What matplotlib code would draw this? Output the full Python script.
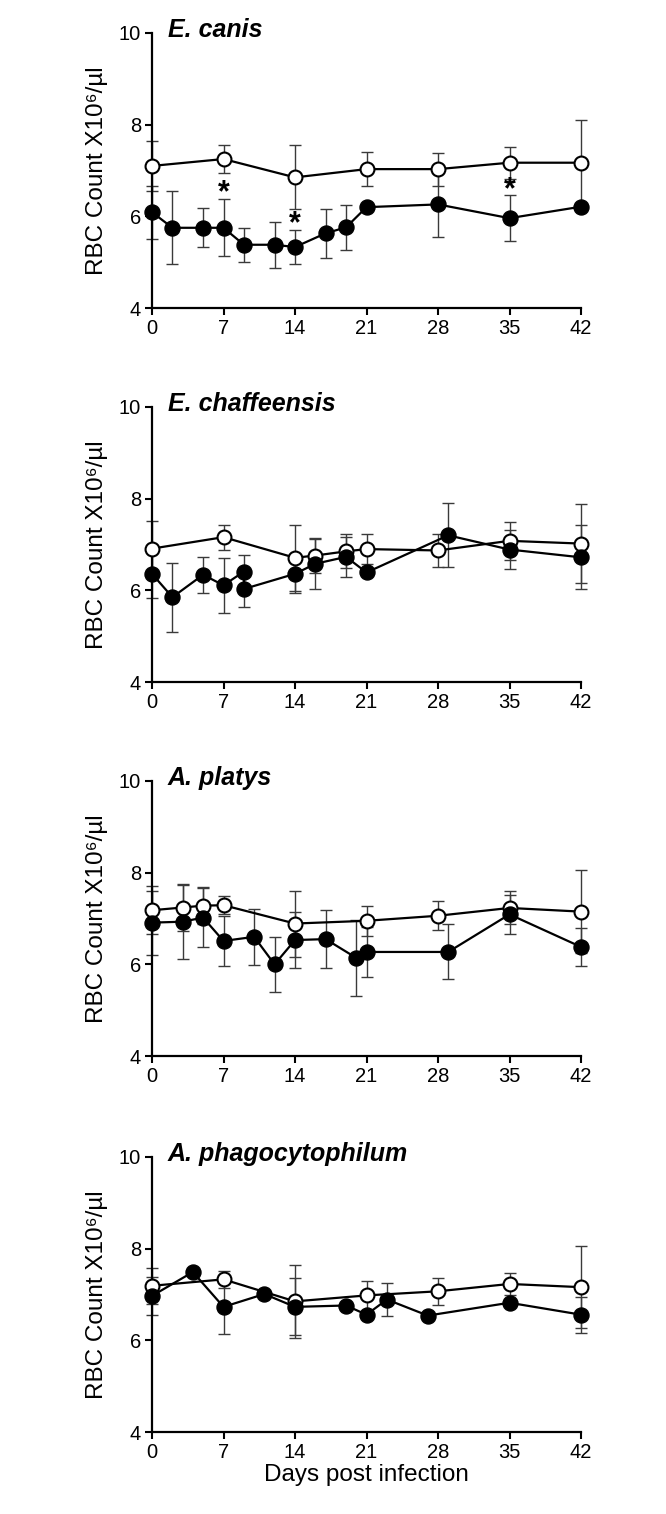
import matplotlib
matplotlib.use("Agg")
import matplotlib.pyplot as plt

plt.rcParams['font.family'] = ['Liberation Sans', 'DejaVu Sans']

# panel titles
titles = ["E. canis", "E. chaffeensis", "A. platys", "A. phagocytophilum"]

# E. canis
canis_open_x = [0, 7, 14, 21, 28, 35, 42]
canis_open_y = [7.10, 7.25, 6.85, 7.03, 7.03, 7.17, 7.17]
canis_open_err = [0.54, 0.31, 0.70, 0.37, 0.36, 0.35, 0.94]
canis_fill_x = [0, 2, 5, 7, 9, 12, 14, 17, 19, 21, 28, 35, 42]
canis_fill_y = [6.09, 5.75, 5.75, 5.75, 5.38, 5.38, 5.33, 5.63, 5.76, 6.20, 6.26, 5.96, 6.21]
canis_fill_err = [0.58, 0.80, 0.43, 0.62, 0.37, 0.50, 0.38, 0.54, 0.49, 0.05, 0.72, 0.50, 0.05]
canis_star_x = [7, 14, 35]
canis_star_y = [6.50, 5.83, 6.57]

# E. chaffeensis
chaf_open_x = [0, 7, 14, 16, 19, 21, 28, 35, 42]
chaf_open_y = [6.91, 7.16, 6.71, 6.76, 6.85, 6.90, 6.87, 7.08, 7.02]
chaf_open_err = [0.60, 0.27, 0.72, 0.38, 0.37, 0.33, 0.35, 0.42, 0.86]
chaf_fill_x = [0, 2, 5, 7, 9, 9, 14, 16, 19, 21, 29, 35, 42]
chaf_fill_y = [6.36, 5.85, 6.34, 6.11, 6.41, 6.03, 6.36, 6.58, 6.73, 6.39, 7.20, 6.89, 6.72]
chaf_fill_err = [0.52, 0.75, 0.39, 0.60, 0.37, 0.39, 0.41, 0.55, 0.44, 0.05, 0.70, 0.42, 0.70]

# A. platys
plat_open_x = [0, 3, 5, 7, 14, 21, 28, 35, 42]
plat_open_y = [7.18, 7.24, 7.28, 7.29, 6.89, 6.95, 7.06, 7.23, 7.15]
plat_open_err = [0.52, 0.52, 0.41, 0.20, 0.72, 0.33, 0.32, 0.36, 0.91]
plat_fill_x = [0, 3, 5, 7, 10, 12, 14, 17, 20, 21, 29, 35, 42]
plat_fill_y = [6.91, 6.93, 7.02, 6.51, 6.60, 6.00, 6.53, 6.55, 6.14, 6.27, 6.27, 7.09, 6.38]
plat_fill_err = [0.70, 0.81, 0.65, 0.55, 0.61, 0.60, 0.61, 0.63, 0.82, 0.54, 0.60, 0.42, 0.41]

# A. phagocytophilum
phag_open_x = [0, 7, 14, 21, 28, 35, 42]
phag_open_y = [7.19, 7.33, 6.85, 6.98, 7.07, 7.23, 7.16]
phag_open_err = [0.39, 0.18, 0.79, 0.31, 0.29, 0.25, 0.89]
phag_fill_x = [0, 4, 7, 11, 14, 19, 21, 23, 27, 35, 42]
phag_fill_y = [6.97, 7.49, 6.73, 7.01, 6.73, 6.76, 6.56, 6.89, 6.54, 6.82, 6.56]
phag_fill_err = [0.42, 0.05, 0.60, 0.05, 0.62, 0.05, 0.05, 0.36, 0.05, 0.05, 0.39]

panels = [
    (canis_open_x, canis_open_y, canis_open_err, canis_fill_x, canis_fill_y, canis_fill_err),
    (chaf_open_x, chaf_open_y, chaf_open_err, chaf_fill_x, chaf_fill_y, chaf_fill_err),
    (plat_open_x, plat_open_y, plat_open_err, plat_fill_x, plat_fill_y, plat_fill_err),
    (phag_open_x, phag_open_y, phag_open_err, phag_fill_x, phag_fill_y, phag_fill_err),
]

x_ticks = [0, 7, 14, 21, 28, 35, 42]
y_ticks = [4, 6, 8, 10]

W, H = 666, 1514
fig = plt.figure(figsize=(W / 100, H / 100), dpi=100)

ax_left = 152 / W
ax_width = 429 / W
ax_height = 275 / H
ax_bottoms = [1 - 308 / H, 1 - 682 / H, 1 - 1056 / H, 1 - 1432 / H]

for i, (ox, oy, oe, fx, fy, fe) in enumerate(panels):
    ax = fig.add_axes([ax_left, ax_bottoms[i], ax_width, ax_height])

    ax.errorbar(ox, oy, yerr=oe, fmt='none', ecolor='#3a3a3a', elinewidth=1.0,
                capsize=4.4, capthick=1.0, zorder=1, clip_on=False)
    ax.errorbar(fx, fy, yerr=fe, fmt='none', ecolor='#3a3a3a', elinewidth=1.0,
                capsize=4.4, capthick=1.0, zorder=1, clip_on=False)
    ax.plot(ox, oy, '-o', color='black', lw=1.6, ms=10, mfc='white', mec='black',
            mew=1.5, zorder=3, clip_on=False)
    ax.plot(fx, fy, '-o', color='black', lw=1.6, ms=10.8, mfc='black', mec='black',
            zorder=4, clip_on=False)

    if i == 0:
        for sx, sy in zip(canis_star_x, canis_star_y):
            ax.text(sx, sy, '*', ha='center', va='center', fontsize=22,
                    fontweight='bold', zorder=5)

    ax.set_xlim(0, 42)
    ax.set_ylim(4, 10)
    ax.set_xticks(x_ticks)
    ax.set_yticks(y_ticks)
    ax.tick_params(direction='out', length=5, width=1.5, labelsize=14.5, pad=3)
    for side in ['top', 'right']:
        ax.spines[side].set_visible(False)
    for side in ['left', 'bottom']:
        ax.spines[side].set_linewidth(1.6)
    ax.set_ylabel("RBC Count X10\u2076/\u00b5l", fontsize=17.5, labelpad=8)
    ax.text(0.037, 0.985, titles[i], transform=ax.transAxes, fontsize=18,
            fontweight='bold', fontstyle='italic', va='baseline', ha='left')
    if i == 3:
        ax.set_xlabel("Days post infection", fontsize=17.5, labelpad=1)

fig.savefig("out.png", dpi=100)
